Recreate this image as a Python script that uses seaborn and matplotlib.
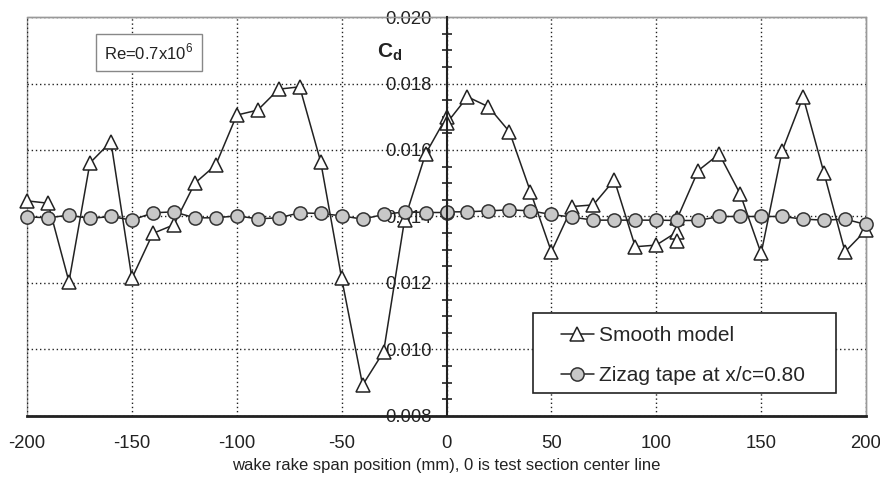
import numpy as np
import matplotlib
matplotlib.use('Agg')
import matplotlib.pyplot as plt
from matplotlib.ticker import MultipleLocator, FormatStrFormatter
from matplotlib.patches import Rectangle
import seaborn as sns

# wake rake positions (mm) and drag coefficients
smooth_x = [-200, -190, -180, -170, -160, -150, -140, -130, -120, -110,
            -100, -90, -80, -70, -60, -50, -40, -30, -20, -10,
            0, 0, 10, 20, 30, 40, 50, 60, 70, 80, 90, 100,
            110, 110, 110, 120, 130, 140, 150, 160, 170, 180, 190, 200]
smooth_cd = [0.01447, 0.0144, 0.01204, 0.01561, 0.01625, 0.01214, 0.01349, 0.01375, 0.0150, 0.01555,
             0.01705, 0.0172, 0.01783, 0.0179, 0.01565, 0.01214, 0.00893, 0.00993, 0.0139, 0.01588,
             0.0170, 0.0168, 0.0176, 0.0173, 0.01655, 0.01475, 0.01294, 0.0143, 0.01435, 0.0151, 0.01309, 0.01314,
             0.01354, 0.01325, 0.01394, 0.01538, 0.01588, 0.01468, 0.01289, 0.01597, 0.0176, 0.0153, 0.01294, 0.01359]

tape_x = [-200, -190, -180, -170, -160, -150, -140, -130, -120, -110,
          -100, -90, -80, -70, -60, -50, -40, -30, -20, -10,
          0, 0, 10, 20, 30, 40, 50, 60, 70, 80, 90, 100,
          110, 120, 130, 140, 150, 160, 170, 180, 190, 200]
tape_cd = [0.01399, 0.01396, 0.01404, 0.01394, 0.0140, 0.01389, 0.01411, 0.01414, 0.01396, 0.01396,
           0.01402, 0.01393, 0.01396, 0.01411, 0.01409, 0.01402, 0.01392, 0.01406, 0.01414, 0.01412,
           0.01412, 0.01414, 0.01414, 0.01417, 0.0142, 0.01417, 0.01406, 0.01398, 0.01389, 0.01389, 0.01389, 0.01389,
           0.01388, 0.01388, 0.0140, 0.0140, 0.0140, 0.0140, 0.01392, 0.01389, 0.01392, 0.01376]

x_ticks = [-200, -150, -100, -50, 0, 50, 100, 150, 200]
y_ticks = [0.008, 0.010, 0.012, 0.014, 0.016, 0.018, 0.020]

sns.set_style('white')
plt.rcParams['font.family'] = ['Liberation Sans', 'DejaVu Sans']
plt.rcParams['axes.unicode_minus'] = False
plt.rcParams['mathtext.fontset'] = 'custom'
plt.rcParams['mathtext.rm'] = 'Liberation Sans'
plt.rcParams['mathtext.bf'] = 'Liberation Sans:bold'

fig = plt.figure(figsize=(8.8, 4.82), dpi=100)
ax = fig.add_axes([0.0307, 0.137, 0.9534, 0.8277])

ink = '#222222'
sns.lineplot(x=smooth_x, y=smooth_cd, estimator=None, sort=False, ax=ax,
             color=ink, lw=1.1, marker='^', markersize=10.5,
             markerfacecolor='white', markeredgecolor=ink, markeredgewidth=1.1,
             label='Smooth model', zorder=3, clip_on=False)
sns.lineplot(x=tape_x, y=tape_cd, estimator=None, sort=False, ax=ax,
             color=ink, lw=1.1, marker='o', markersize=9.5,
             markerfacecolor='#c8c8c8', markeredgecolor='#333333', markeredgewidth=1.1,
             label='Zizag tape at x/c=0.80', zorder=4, clip_on=False)

ax.set_xlim(-200, 200)
ax.set_ylim(0.008, 0.020)
ax.set_xticks(x_ticks)
ax.set_yticks(y_ticks)
ax.yaxis.set_minor_locator(MultipleLocator(0.0005))
ax.yaxis.set_major_formatter(FormatStrFormatter('%.3f'))
ax.grid(True, which='major', ls=(0, (1, 2)), color=ink, lw=1)

# y axis sits at the centre line
ax.spines['left'].set_position(('data', 0))
ax.spines['left'].set_color(ink)
ax.spines['left'].set_linewidth(1.5)
ax.spines['left'].set_zorder(5)
ax.spines['bottom'].set_color(ink)
ax.spines['bottom'].set_linewidth(2)
for s in ['top', 'right']:
    ax.spines[s].set_color('#999999')
    ax.spines[s].set_linewidth(1)
ax.add_patch(Rectangle((0, 0), 1, 1, transform=ax.transAxes, fill=False,
                       edgecolor='#999999', lw=1, zorder=0.5, clip_on=False))

ax.tick_params(axis='x', direction='out', length=5, width=1.2, color=ink,
               labelsize=13.3, labelcolor=ink, pad=9)
ax.tick_params(axis='y', which='major', direction='inout', length=9, width=1.2,
               color=ink, labelsize=13.3, labelcolor=ink, pad=6)
ax.tick_params(axis='y', which='minor', direction='inout', length=6.5, width=1.2, color=ink, left=True)

ax.set_xlabel('wake rake span position (mm), 0 is test section center line',
              fontsize=12, color=ink, labelpad=4)
ax.set_ylabel('')

ax.text(-33, 0.01893, r'$\mathbf{C_d}$', fontsize=15, color=ink, ha='left', va='center', zorder=6)
ax.text(-142, 0.01894, r'Re=0.7x10$^{6}$', fontsize=12, color=ink, ha='center', va='center',
        bbox=dict(boxstyle='square,pad=0.5', facecolor='white', edgecolor='#888888', lw=1), zorder=6)

# legend box drawn separately to get the wide left padding
ax.add_patch(Rectangle((0.603, 0.0576), 0.361, 0.2005, transform=ax.transAxes,
                       facecolor='white', edgecolor=ink, lw=1.2, zorder=6))
leg = ax.legend(loc='center left', bbox_to_anchor=(0.636, 0.1516), fontsize=15,
                frameon=False, handlelength=1.6, handletextpad=0.25,
                borderpad=0, borderaxespad=0, labelspacing=1.0)
leg.set_zorder(7)

fig.savefig('out.png', dpi=100)
